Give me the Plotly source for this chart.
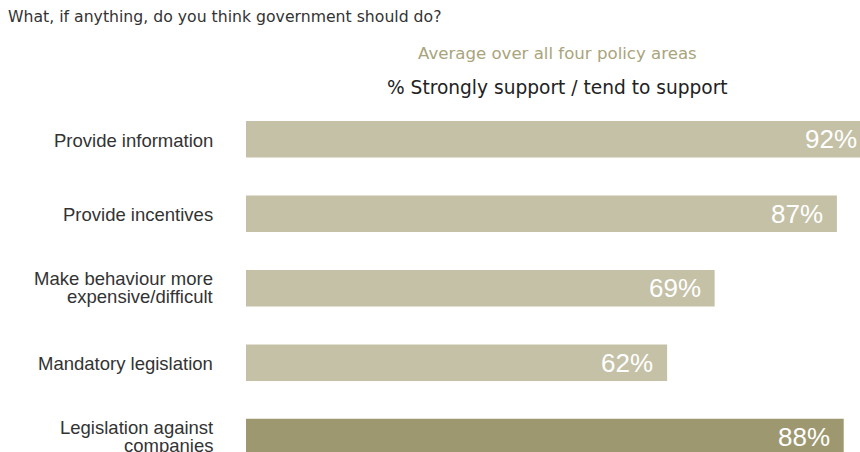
import plotly.graph_objects as go

categories = ["Provide information", "Provide incentives",
              "Make behaviour more<br>expensive/difficult",
              "Mandatory legislation", "Legislation against<br>companies"]
values = [92, 87, 69, 62, 88]
colors = ["#c5c1a7", "#c5c1a7", "#c5c1a7", "#c5c1a7", "#9e9870"]

title = "What, if anything, do you think government should do?"
subtitle1 = "Average over all four policy areas"
subtitle2 = "% Strongly support / tend to support"

XMAX = 90.4
fig = go.Figure(go.Bar(
    x=values, y=list(range(len(categories))), orientation="h",
    marker=dict(color=colors, line=dict(width=0)),
    cliponaxis=True, width=0.49, hoverinfo="skip",
))

annotations = []
# value labels inside bar ends (paper reference so the clipped first bar keeps its label)
for i, v in enumerate(values):
    annotations.append(dict(
        text=f"{v}%", xref="paper", yref="y", x=v / XMAX, y=i, xanchor="right", yanchor="middle",
        xshift=-12, showarrow=False,
        font=dict(size=26, color="white", family="Liberation Sans")))
# category labels (tight line spacing)
for i, cat in enumerate(categories):
    lines = cat.split("<br>")
    n = len(lines)
    for j, line in enumerate(lines):
        annotations.append(dict(
            text=line, xref="paper", yref="y", x=0, y=i, xanchor="right", yanchor="middle",
            xshift=-31, yshift=9 * (n - 1) - 18 * j + (1 if n > 1 else -1), showarrow=False,
            font=dict(size=18.5, color="#333333", family="Liberation Sans")))

annotations += [
    dict(text=title, xref="paper", yref="paper", x=-246/614, y=1 + (102 - 17) / 350,
         xanchor="left", yanchor="middle", showarrow=False, xshift=6,
         font=dict(size=15.7, color="#333333", family="DejaVu Sans")),
    dict(text=subtitle1, xref="paper", yref="paper", x=(557 - 246) / 614, y=1 + (102 - 54) / 350,
         xanchor="center", yanchor="middle", showarrow=False,
         font=dict(size=16.6, color="#a9a47c", family="DejaVu Sans")),
    dict(text=subtitle2, xref="paper", yref="paper", x=(557 - 246) / 614, y=1 + (102 - 88) / 350,
         xanchor="center", yanchor="middle", showarrow=False,
         font=dict(size=18.6, color="#222222", family="DejaVu Sans")),
]

fig.update_layout(
    width=860, height=452,
    margin=dict(l=246, r=0, t=102, b=0),
    paper_bgcolor="white", plot_bgcolor="white",
    showlegend=False,
    xaxis=dict(range=[0, XMAX], visible=False, fixedrange=True),
    yaxis=dict(range=[4.2, -0.5], visible=False, fixedrange=True),
    annotations=annotations,
)

fig.write_html("out.html")
